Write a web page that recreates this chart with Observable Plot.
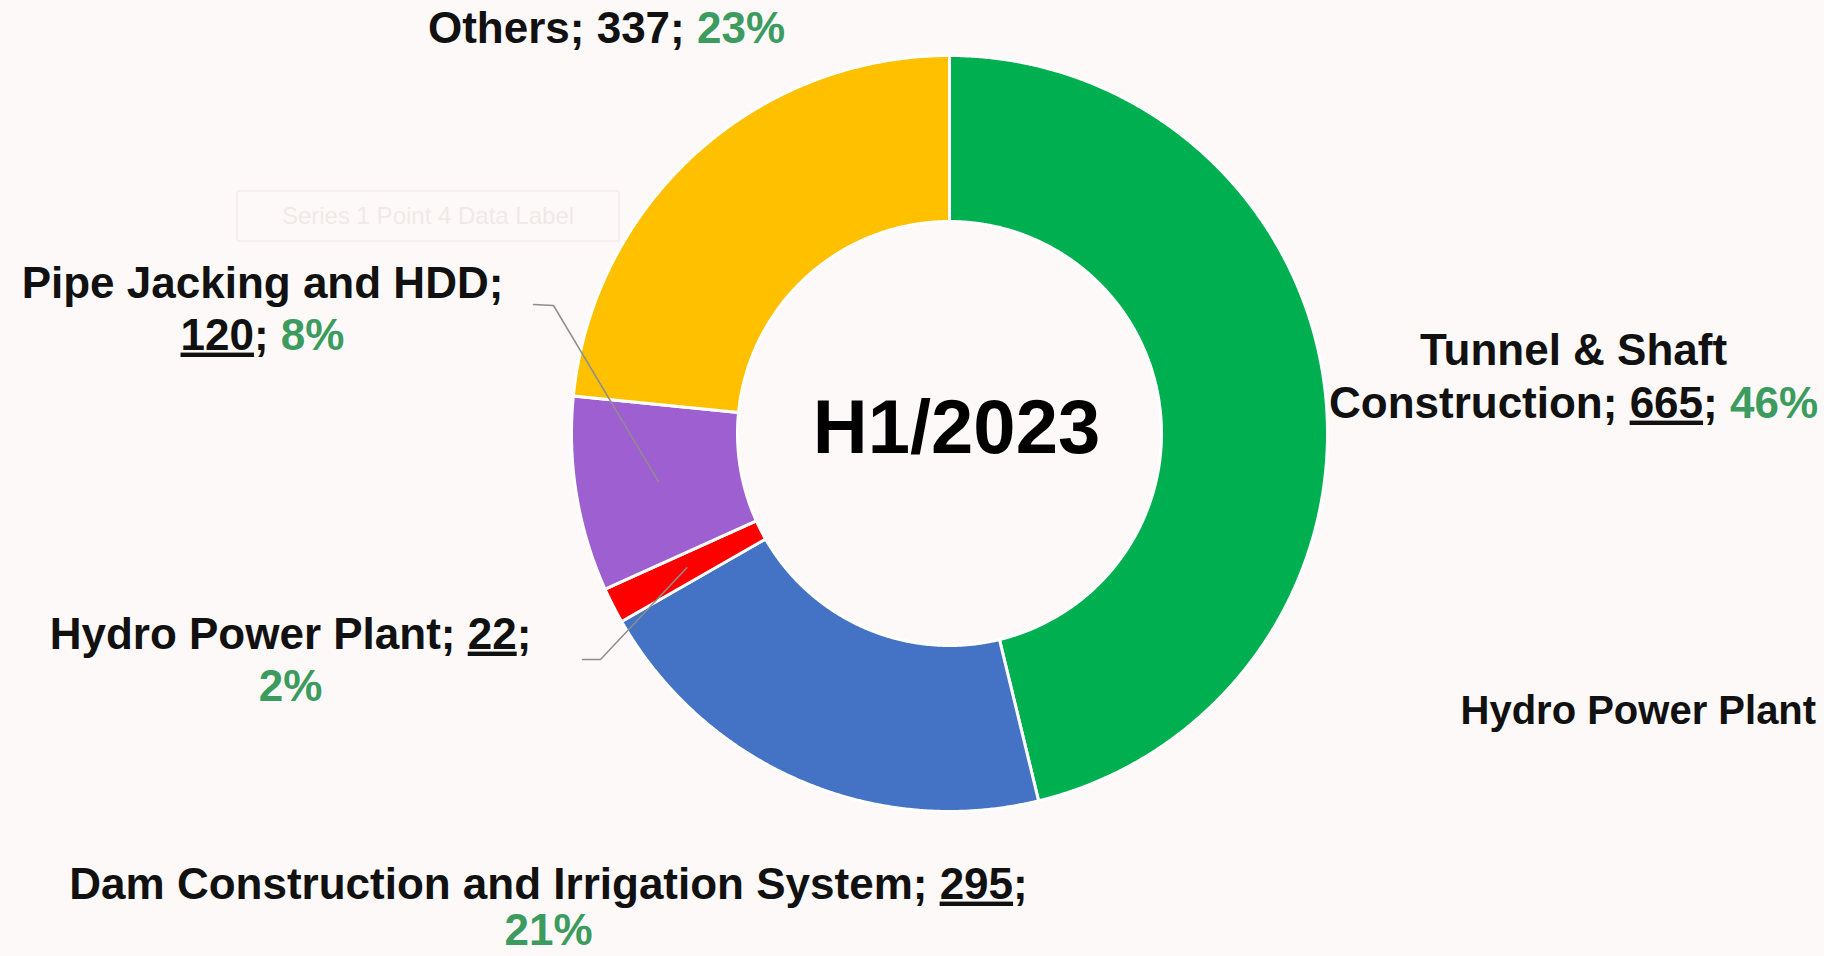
<!DOCTYPE html>
<html>
<head>
<meta charset="utf-8">
<script src="https://cdn.jsdelivr.net/npm/d3@7"></script>
<script src="https://cdn.jsdelivr.net/npm/@observablehq/plot@0.6"></script>
<style>
  html, body { margin: 0; padding: 0; background: #fdf9f8; overflow: hidden; }
  #chart { position: relative; width: 1824px; height: 956px; }
  #ghost { position: absolute; left: 236px; top: 190px; width: 380px; height: 48px;
           border: 2px solid #f5efee; border-radius: 3px; color: #f0e9e8;
           font: 24px "Liberation Sans", sans-serif; line-height: 48px; text-align: center; }
</style>
</head>
<body>
<div id="chart"><div id="ghost">Series 1 Point 4 Data Label</div></div>
<script>
// ---------- data ----------
const categories = ["Tunnel & Shaft Construction", "Dam Construction and Irrigation System", "Hydro Power Plant", "Pipe Jacking and HDD", "Others"];
const values = [665, 295, 22, 120, 337];
const percentLabels = ["46%", "21%", "2%", "8%", "23%"];
const sliceColors = ["#00b050", "#4472c4", "#ff0000", "#9e5fd0", "#ffc000"];
const centerTitle = "H1/2023";
const strayLabel = "Hydro Power Plant";
// label lines: _x_ = underlined value, ^x^ = green percentage
const labelLines = [
  ["Tunnel & Shaft", "Construction; _665_; ^46%^"],
  ["Dam Construction and Irrigation System; _295_;", "^21%^"],
  ["Hydro Power Plant; _22_;", "^2%^"],
  ["Pipe Jacking and HDD;", "_120_; ^8%^"],
  ["Others; 337; ^23%^"]
];

// ---------- layout ----------
const W = 1824, H = 956;
const cx = 949, cy = 433, rInner = 212, rOuter = 378, rLeader = 295;
const labelLayout = [
  {x: 1573, ys: [350, 403]},
  {x: 548,  ys: [884, 930]},
  {x: 290,  ys: [634, 686]},
  {x: 262,  ys: [283, 335]},
  {x: 606,  ys: [28]}
];
const leaderLayout = {2: [[582, 659], [600, 659]], 3: [[533, 304], [553, 305]]};
const titlePos = {x: 956, y: 428};
const strayPos = {x: 1460, y: 711};
const textColor = "#111111", pctColor = "#3c9b5e";

// ---------- geometry from data ----------
const data = categories.map((c, i) => ({cat: c, value: values[i], i}));
const arcs = d3.pie().sort(null).value(d => d.value)(data);
const polar = (a, r) => [cx + r * Math.sin(a), cy - r * Math.cos(a)];

const slicePts = arcs.flatMap(p => {
  const n = Math.max(4, Math.ceil((p.endAngle - p.startAngle) / 0.005));
  const pts = [];
  for (let k = 0; k <= n; k++) pts.push(polar(p.startAngle + (p.endAngle - p.startAngle) * k / n, rOuter));
  for (let k = n; k >= 0; k--) pts.push(polar(p.startAngle + (p.endAngle - p.startAngle) * k / n, rInner));
  return pts.map(([x, y]) => ({cat: p.data.cat, x, y}));
});

const leaderPts = Object.entries(leaderLayout).flatMap(([i, pts]) => {
  const p = arcs[+i];
  const mid = (p.startAngle + p.endAngle) / 2;
  return [...pts, polar(mid, rLeader)].map(([x, y]) => ({cat: categories[+i], x, y}));
});

const labelRows = labelLines.flatMap((lines, i) =>
  lines.map((t, j) => ({t, x: labelLayout[i].x, y: labelLayout[i].ys[j]})));

const chart = Plot.plot({
  width: W, height: H, margin: 0,
  x: {domain: [0, W], range: [0, W], axis: null},
  y: {domain: [0, H], range: [0, H], axis: null},
  color: {domain: categories, range: sliceColors},
  style: {background: "transparent", fontFamily: "Liberation Sans, Arial, sans-serif", overflow: "hidden"},
  marks: [
    Plot.line(slicePts, {x: "x", y: "y", z: "cat", fill: "cat", stroke: "#ffffff", strokeWidth: 3, curve: "linear-closed"}),
    Plot.line(leaderPts, {x: "x", y: "y", z: "cat", stroke: "#8e8e8e", strokeWidth: 1.5}),
    Plot.text([{t: centerTitle, ...titlePos}], {x: "x", y: "y", text: "t", fontSize: 76, fontWeight: "bold", fill: "#000"}),
    Plot.text([{t: strayLabel, ...strayPos}], {x: "x", y: "y", text: "t", fontSize: 40, fontWeight: "bold", fill: textColor, textAnchor: "start"}),
    Plot.text(labelRows, {x: "x", y: "y", text: "t", fontSize: 44, fontWeight: "bold", fill: textColor})
  ]
});

// rich text: underline values, colour percentages
d3.select(chart).selectAll("text").each(function() {
  const s = this.textContent;
  if (!/[_^]/.test(s)) return;
  const el = d3.select(this);
  el.selectAll("*").remove();
  el.text(null);
  s.split(/(_[^_]+_|\^[^^]+\^)/).filter(x => x).forEach(part => {
    const ts = el.append("tspan");
    if (part.startsWith("_")) ts.text(part.slice(1, -1)).style("text-decoration", "underline");
    else if (part.startsWith("^")) ts.text(part.slice(1, -1)).attr("fill", pctColor);
    else ts.text(part);
  });
});

document.getElementById("chart").prepend(chart);
</script>
</body>
</html>
